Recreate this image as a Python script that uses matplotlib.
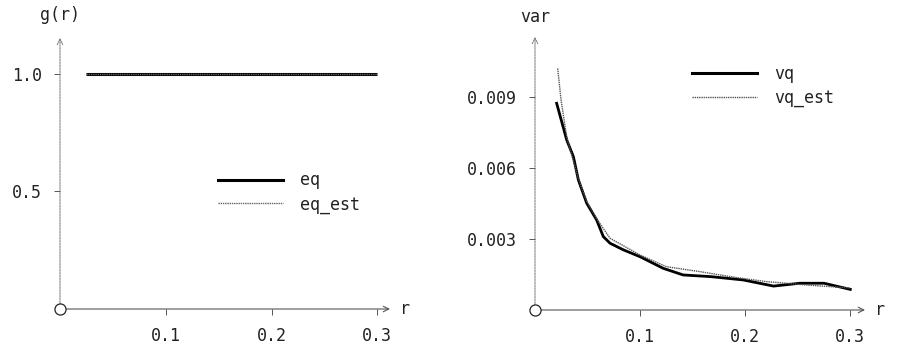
import numpy as np
import matplotlib
matplotlib.use('Agg')
import matplotlib.pyplot as plt
from matplotlib.lines import Line2D

# ---- data ----
r_eq = [0.025, 0.1, 0.2, 0.3]
eq = [1.0, 1.0, 1.0, 1.0]
eq_est = [1.0, 1.0, 1.0, 1.0]

r_vq = [0.0206, 0.0302, 0.0365, 0.0413, 0.0492, 0.0587, 0.065, 0.0714, 0.0841,
        0.1, 0.122, 0.141, 0.167, 0.198, 0.227, 0.252, 0.275, 0.3]
vq = [0.00873, 0.00718, 0.00648, 0.00549, 0.00451, 0.0038, 0.0031, 0.00282, 0.00254,
      0.00225, 0.00176, 0.00148, 0.00141, 0.00127, 0.00101, 0.00113, 0.00113, 0.00087]

r_vq_est = [0.0216, 0.0248, 0.0302, 0.0413, 0.0492, 0.0587, 0.0714, 0.1, 0.125,
            0.157, 0.19, 0.22, 0.26, 0.3]
vq_est = [0.0102, 0.00887, 0.0073, 0.00555, 0.00458, 0.00385, 0.00303, 0.00232, 0.00183,
          0.00162, 0.00138, 0.0012, 0.00105, 0.00093]

left_yticks = [0.5, 1.0]
left_ylabels = ['0.5', '1.0']
right_yticks = [0.003, 0.006, 0.009]
right_ylabels = ['0.003', '0.006', '0.009']
xticks = [0.1, 0.2, 0.3]
xlabels = ['0.1', '0.2', '0.3']

FONT = 'DejaVu Sans Mono'
INK = '#222222'
plt.rcParams['font.family'] = FONT

W, H = 898, 352
fig = plt.figure(figsize=(W / 100, H / 100), dpi=100)


def px_axes(x0, x1, ytop, ybot):
    return fig.add_axes([x0 / W, (H - ybot) / H, (x1 - x0) / W, (ybot - ytop) / H])


def style_axes(ax, ylab, ylab_y):
    for s in ax.spines.values():
        s.set_visible(False)
    ax.annotate('', xy=(1, 0), xytext=(0, 0), xycoords='axes fraction',
                arrowprops=dict(arrowstyle='->', color='#555555', lw=0.8,
                                shrinkA=0, shrinkB=0))
    ax.annotate('', xy=(0, 1), xytext=(0, 0), xycoords='axes fraction',
                arrowprops=dict(arrowstyle='->', color='#777777', lw=0.7,
                                linestyle=(0, (2, 1)), shrinkA=0, shrinkB=0))
    ax.plot([0], [0], 'o', mfc='white', mec=INK, ms=8, mew=0.9, clip_on=False, zorder=5)
    ax.tick_params(axis='both', direction='out', length=4, width=0.7, color='#555555',
                   labelsize=12, labelcolor=INK)
    ax.tick_params(axis='x', pad=9)
    ax.tick_params(axis='y', pad=9)
    ax.text(1.045, 0.0, 'r', transform=ax.transAxes, ha='center', va='center',
            fontsize=12, color=INK)
    ax.text(0.0, ylab_y, ylab, transform=ax.transAxes, ha='center', va='center',
            fontsize=12, color=INK)


# ---- left panel: g(r) ----
ax1 = px_axes(60, 390, 38, 309)
ax1.plot(r_eq, eq, color='black', lw=2.2, solid_capstyle='butt')
ax1.plot(r_eq, eq_est, color='#666666', lw=1.0, linestyle=(0, (1, 0.6)))
ax1.set_xlim(0, 0.312)
ax1.set_ylim(0, 1.153)
ax1.set_xticks(xticks, xlabels)
ax1.set_yticks(left_yticks, left_ylabels)
style_axes(ax1, 'g(r)', 1.085)
h1 = [Line2D([], [], color='black', lw=2.2),
      Line2D([], [], color='#666666', lw=1.0, linestyle=(0, (1, 0.6)))]
ax1.legend(h1, ['eq', 'eq_est'], loc='center left', bbox_to_anchor=(0.479, 0.43),
           frameon=False, borderpad=0, borderaxespad=0, handlelength=3.9,
           handletextpad=1.0, labelspacing=0.35, fontsize=12, labelcolor=INK)

# ---- right panel: var ----
ax2 = px_axes(535, 865, 37, 310)
ax2.plot(r_vq, vq, color='black', lw=2.0)
ax2.plot(r_vq_est, vq_est, color='#555555', lw=1.0, linestyle=(0, (1, 0.6)))
ax2.set_xlim(0, 0.314)
ax2.set_ylim(0, 0.01153)
ax2.set_xticks(xticks, xlabels)
ax2.set_yticks(right_yticks, right_ylabels)
style_axes(ax2, 'var', 1.073)
h2 = [Line2D([], [], color='black', lw=2.2),
      Line2D([], [], color='#555555', lw=1.0, linestyle=(0, (1, 0.6)))]
ax2.legend(h2, ['vq', 'vq_est'], loc='center left', bbox_to_anchor=(0.476, 0.82),
           frameon=False, borderpad=0, borderaxespad=0, handlelength=3.9,
           handletextpad=1.0, labelspacing=0.35, fontsize=12, labelcolor=INK)

fig.savefig('out.png', dpi=100)
